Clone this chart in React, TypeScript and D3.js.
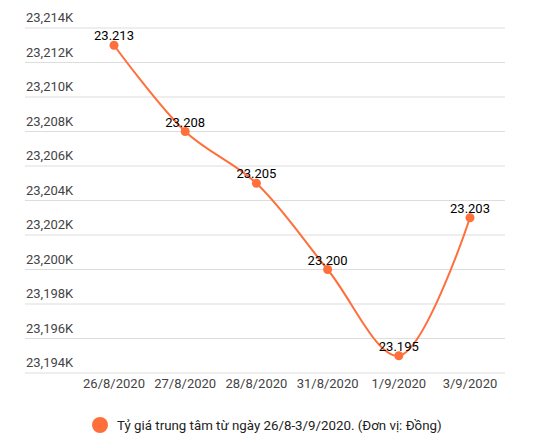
import React from "react";
import * as d3 from "d3";

const categories = ["26/8/2020", "27/8/2020", "28/8/2020", "31/8/2020", "1/9/2020", "3/9/2020"];
const values = [23213, 23208, 23205, 23200, 23195, 23203];
const valueLabels = ["23.213", "23.208", "23.205", "23.200", "23.195", "23.203"];
const yTicks = [23194, 23196, 23198, 23200, 23202, 23204, 23206, 23208, 23210, 23212, 23214];
const legendLabel = "Tỷ giá trung tâm từ ngày 26/8-3/9/2020. (Đơn vị: Đồng)";

const W = 542;
const H = 441;
const COLOR = "#ff6f3c";
const FONT = "Roboto, 'Noto Sans', Arial, sans-serif";

export default function App() {
  const x = d3.scalePoint<string>().domain(categories).range([114, 470]);
  const y = d3.scaleLinear().domain([23194, 23214]).range([373, 28]);
  const fmt = (v: number) => d3.format(",")(v) + "K";
  const line = d3
    .line<number>()
    .x((_, i) => x(categories[i]) as number)
    .y((d) => y(d))
    .curve(d3.curveCatmullRom.alpha(0.5));

  return (
    <svg
      width={W}
      height={H}
      style={{ position: "absolute", left: 0, top: 0, background: "#fff" }}
      fontFamily={FONT}
    >
      {yTicks.map((t) => (
        <g key={t}>
          <line x1={25} x2={505} y1={y(t)} y2={y(t)} stroke="#dddddd" strokeWidth={1} />
          <text x={26} y={y(t) - 6} fontSize={13} fill="#444">
            {fmt(t)}
          </text>
        </g>
      ))}
      {categories.map((c) => (
        <text key={c} x={x(c)} y={388} fontSize={13} fill="#444" textAnchor="middle">
          {c}
        </text>
      ))}
      <path d={line(values) || ""} fill="none" stroke={COLOR} strokeWidth={2} />
      {values.map((v, i) => (
        <g key={i}>
          <circle cx={x(categories[i])} cy={y(v)} r={4.5} fill={COLOR} />
          <text
            x={x(categories[i])}
            y={y(v) - 5}
            fontSize={13}
            fill="#000"
            textAnchor="middle"
          >
            {valueLabels[i]}
          </text>
        </g>
      ))}
      <circle cx={100} cy={425} r={8} fill={COLOR} />
      <text x={117} y={429.5} fontSize={13.3} fill="#222">
        {legendLabel}
      </text>
    </svg>
  );
}
